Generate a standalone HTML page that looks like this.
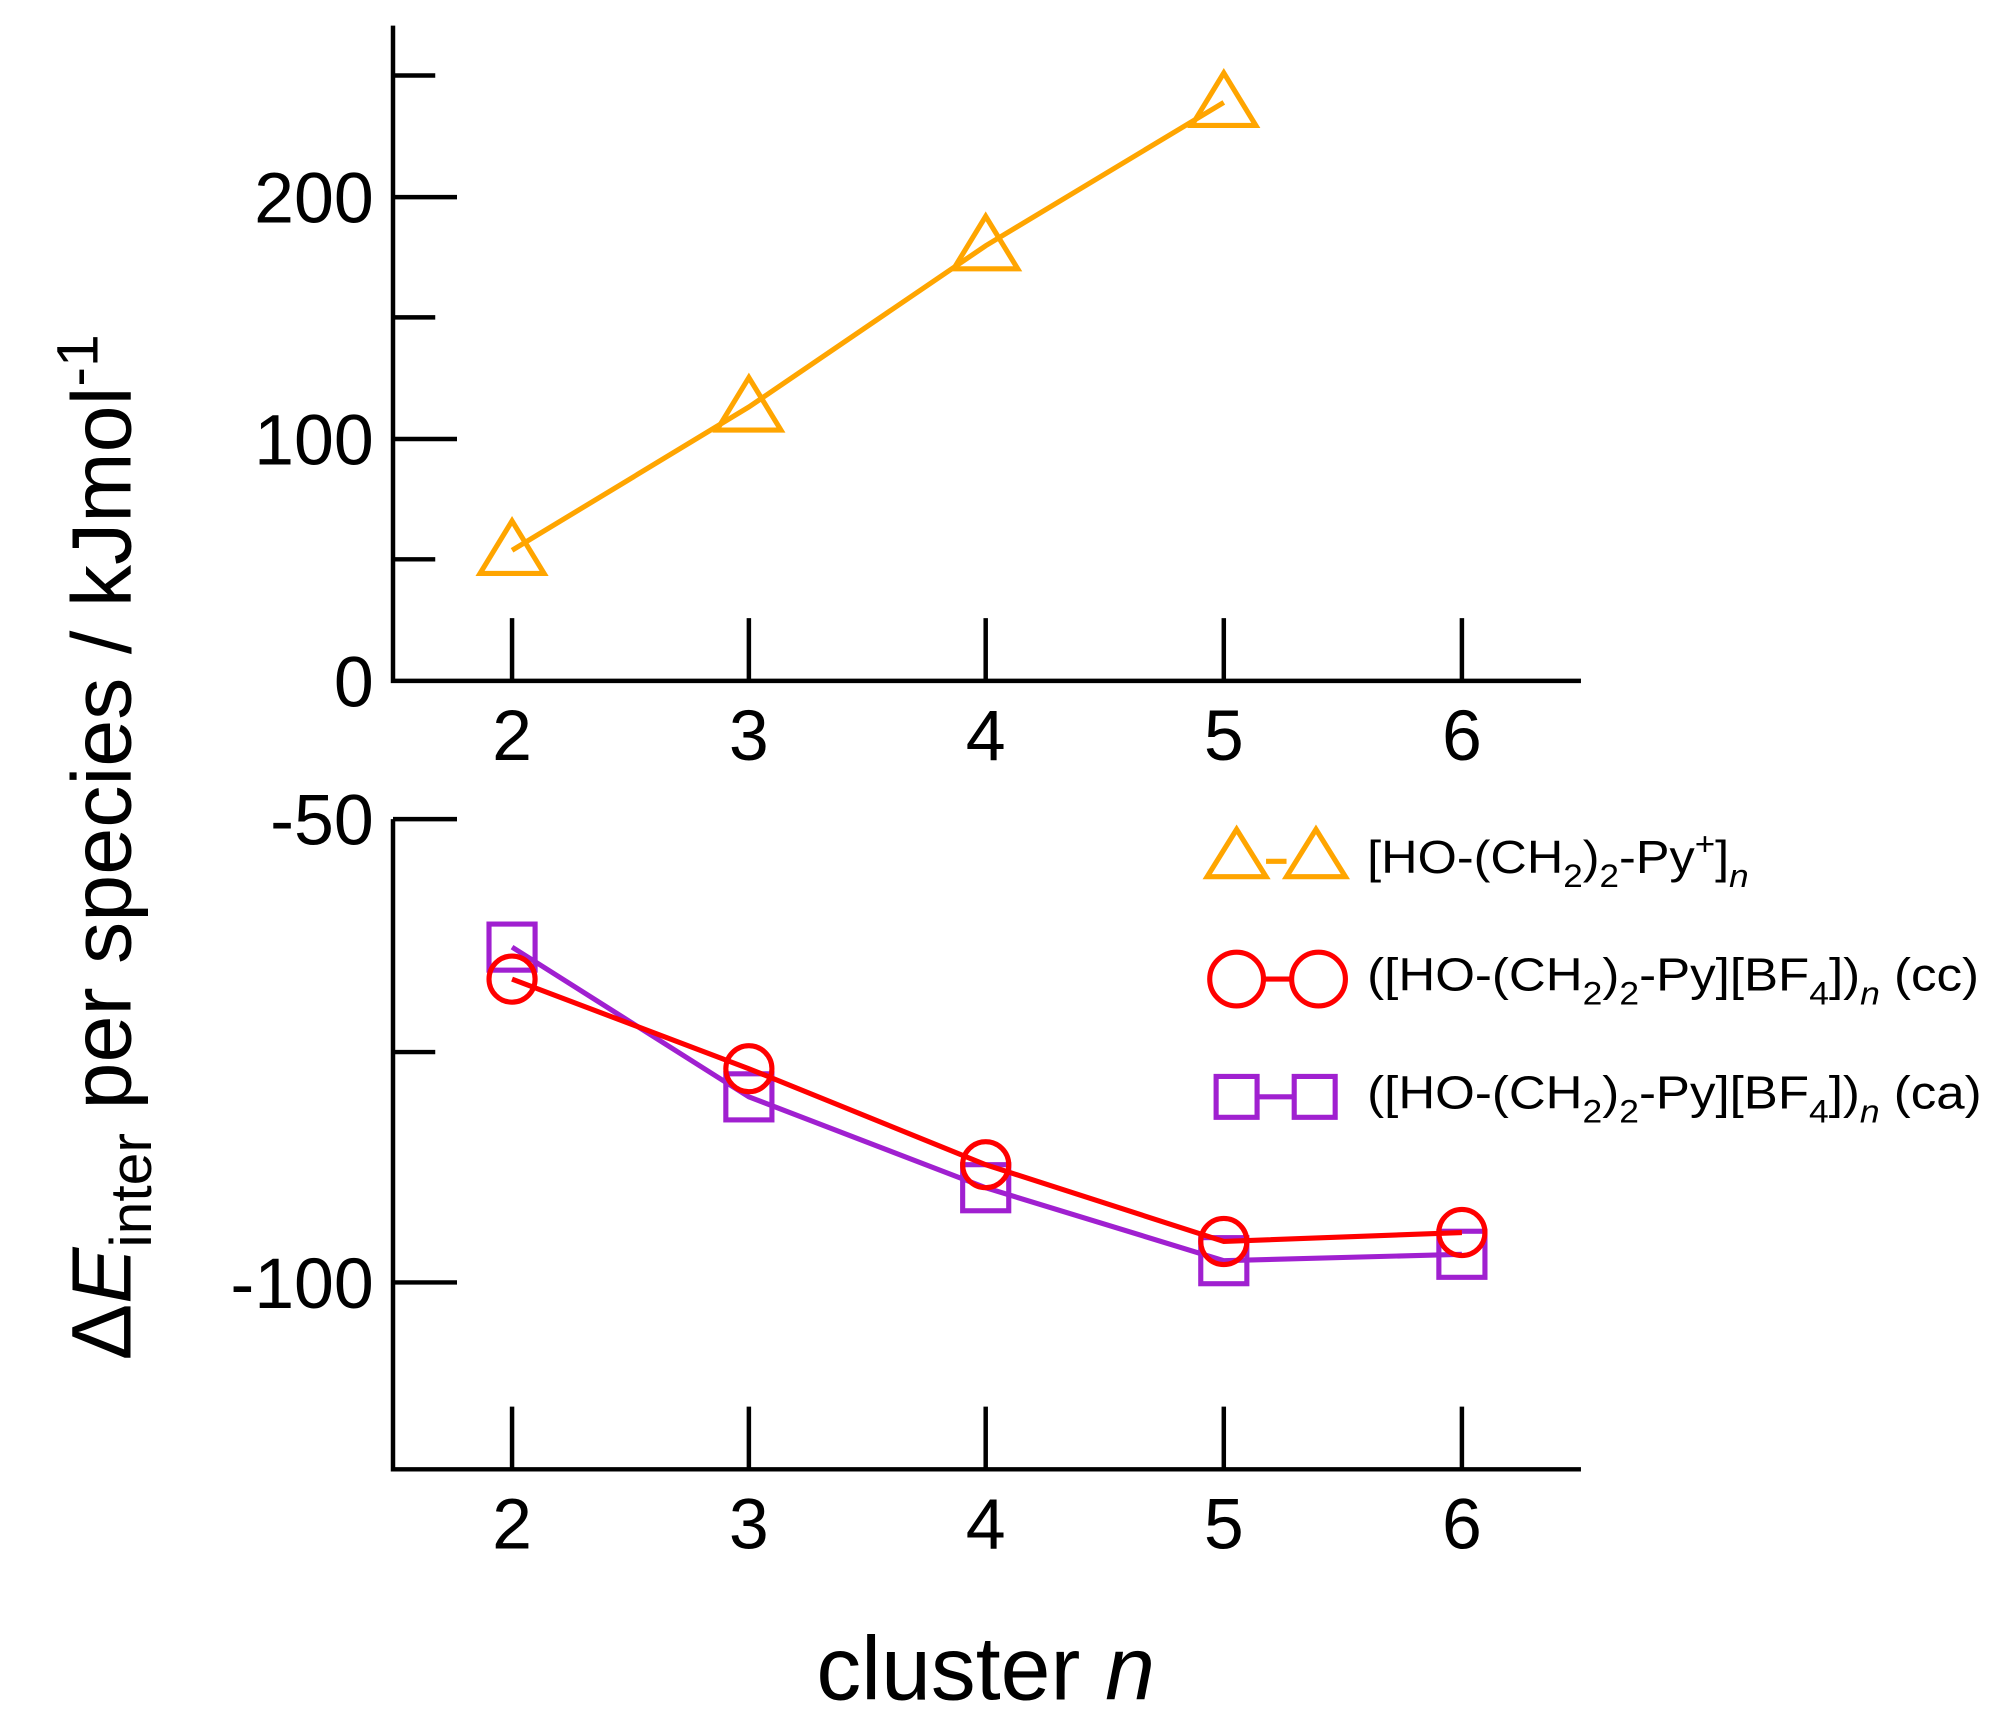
<!DOCTYPE html>
<html><head><meta charset="utf-8"><style>html,body{margin:0;padding:0;background:#fff}svg{display:block}</style></head><body>
<svg width="1997" height="1724" viewBox="0 0 1560 1347" preserveAspectRatio="none" xmlns="http://www.w3.org/2000/svg" font-family="Liberation Sans, sans-serif">
<g stroke="#000" stroke-width="3.5" fill="none">
<path d="M307,20 V532 H1235"/>
<path d="M307,59 H340 M307,154 H357 M307,248 H340 M307,343 H357 M307,437 H340"/>
<path d="M400,532 V483 M585,532 V483 M770,532 V483 M956,532 V483 M1142,532 V483"/>
<path d="M307,640 V1148 H1235"/>
<path d="M307,640 H357 M307,822 H340 M307,1002 H357"/>
<path d="M400,1148 V1099 M585,1148 V1099 M770,1148 V1099 M956,1148 V1099 M1142,1148 V1099"/>
</g>
<g font-size="56" fill="#000" text-anchor="end">
<text x="292" y="174">200</text><text x="292" y="363">100</text><text x="292" y="552">0</text>
<text x="292" y="660">-50</text><text x="292" y="1022">-100</text>
</g>
<g font-size="56" fill="#000" text-anchor="middle">
<text x="400" y="594">2</text><text x="585" y="594">3</text><text x="770" y="594">4</text><text x="956" y="594">5</text><text x="1142" y="594">6</text>
<text x="400" y="1210">2</text><text x="585" y="1210">3</text><text x="770" y="1210">4</text><text x="956" y="1210">5</text><text x="1142" y="1210">6</text>
<text x="770" y="1328" font-size="70">cluster <tspan font-style="italic">n</tspan></text>
</g>
<text transform="translate(102,662) rotate(-90)" text-anchor="middle" font-size="66" fill="#000">Δ<tspan font-style="italic">E</tspan><tspan font-size="46" dy="16">inter</tspan><tspan dy="-16"> per species / kJmol</tspan><tspan font-size="46" dy="-26">-1</tspan></text>
<!-- orange -->
<g stroke="#FFA500" stroke-width="4" fill="none">
<path d="M400,430 L585,318 L770,192 L956,80"/>
<path d="M400,407 L425,448 L375,448 Z M585,295 L610,336 L560,336 Z M770,169 L795,210 L745,210 Z M956,57 L981,98 L931,98 Z"/>
</g>
<!-- purple -->
<g stroke="#A020D0" stroke-width="4" fill="none">
<path d="M400,740 L585,857 L770,928 L956,985 L1142,980"/>
<rect x="382" y="722" width="36" height="36"/><rect x="567" y="839" width="36" height="36"/><rect x="752" y="910" width="36" height="36"/><rect x="938" y="967" width="36" height="36"/><rect x="1124" y="962" width="36" height="36"/>
</g>
<!-- red -->
<g stroke="#FF0000" stroke-width="4" fill="none">
<path d="M400,765 L585,835 L770,910 L956,970 L1142,963"/>
<circle cx="400" cy="765" r="18"/><circle cx="585" cy="835" r="18"/><circle cx="770" cy="910" r="18"/><circle cx="956" cy="970" r="18"/><circle cx="1142" cy="963" r="18"/>
</g>
<!-- legend -->
<g stroke-width="4" fill="none">
<path stroke="#FFA500" d="M966,648 L989,685 L943,685 Z M1028,648 L1051,685 L1005,685 Z M989,673 H1005"/>
<path stroke="#FF0000" d="M986,765 H1008"/><circle stroke="#FF0000" cx="966" cy="765" r="21"/><circle stroke="#FF0000" cx="1030" cy="765" r="21"/>
<path stroke="#A020D0" d="M983,857 H1010 M950,841 h32 v32 h-32 Z M1011,841 h32 v32 h-32 Z"/>
</g>
<g font-size="36" fill="#000">
<text x="1068" y="682" textLength="298" lengthAdjust="spacingAndGlyphs">[HO-(CH<tspan font-size="25" dy="11">2</tspan><tspan dy="-11">)</tspan><tspan font-size="25" dy="11">2</tspan><tspan dy="-11">-Py</tspan><tspan font-size="25" dy="-14">+</tspan><tspan dy="14">]</tspan><tspan font-size="25" dy="11" font-style="italic">n</tspan></text>
<text x="1068" y="774" textLength="478" lengthAdjust="spacingAndGlyphs">([HO-(CH<tspan font-size="25" dy="11">2</tspan><tspan dy="-11">)</tspan><tspan font-size="25" dy="11">2</tspan><tspan dy="-11">-Py][BF</tspan><tspan font-size="25" dy="11">4</tspan><tspan dy="-11">])</tspan><tspan font-size="25" dy="11" font-style="italic">n</tspan><tspan dy="-11">  (cc)</tspan></text>
<text x="1068" y="866" textLength="480" lengthAdjust="spacingAndGlyphs">([HO-(CH<tspan font-size="25" dy="11">2</tspan><tspan dy="-11">)</tspan><tspan font-size="25" dy="11">2</tspan><tspan dy="-11">-Py][BF</tspan><tspan font-size="25" dy="11">4</tspan><tspan dy="-11">])</tspan><tspan font-size="25" dy="11" font-style="italic">n</tspan><tspan dy="-11">  (ca)</tspan></text>
</g>
</svg>
</body></html>
